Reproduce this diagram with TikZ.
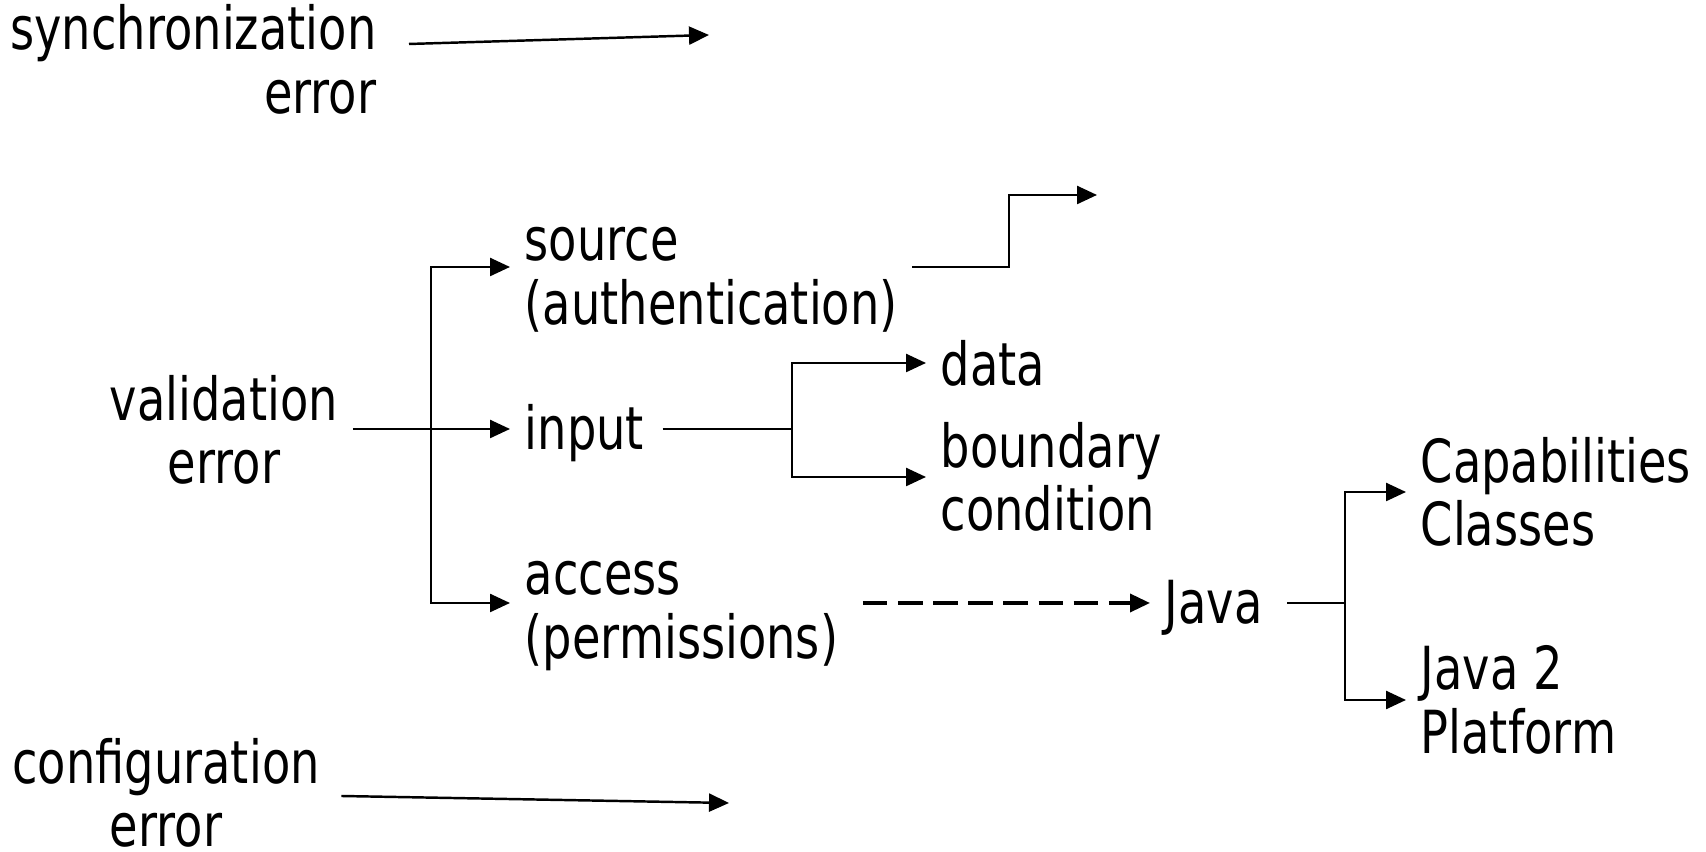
\documentclass[tikz,border=0pt]{standalone}
\usepackage{fontspec}
\setmainfont{DejaVu Sans}[FakeStretch=0.78]
\usepackage{tikz}
\usetikzlibrary{arrows.meta}
\usetikzlibrary{positioning,calc}
\tikzset{>={Triangle[length=0.2cm,width=0.18cm]},
  lbl/.style={inner xsep=4pt,inner ysep=2pt,font=\fontsize{16.9}{18.1}\selectfont},
  arr/.style={->,line width=0.7pt},
  dashline/.style={->,line width=1pt,dash pattern=on 7pt off 3pt}}

\begin{document}
\begin{tikzpicture}
    \useasboundingbox (0,0) rectangle (17.06,8.52);

    % left column
    \node (sync) [lbl, align=right, anchor=east] at (3.91,7.925) {synchronization\\error};
    \node (valid) [lbl, align=center] at (2.24,4.22) {validation\\error};
    \node (config) [lbl, inner ysep=0pt, align=center] at (1.66,0.59) {configuration\\error};

    % kinds of validation
    \node (source) [lbl, align=left, anchor=west] at (5.10,5.72) {source\\(authentication)};
    \node (input) [lbl, anchor=west] at (5.10,4.19) {input};
    \node (access) [lbl, align=left, anchor=west] at (5.10,2.36) {access\\(permissions)};

    \node (data) [lbl, anchor=west] at (9.26,4.89) {data};
    \node (bound) [lbl, align=left, anchor=west] at (9.26,3.75) {boundary\\condition};

    \node (java) [lbl, anchor=west] at (11.50,2.44) {Java};
    \node (caps) [lbl, align=left, anchor=west] at (14.06,3.60) {Capabilities\\Classes};
    \node (plat) [lbl, align=left, anchor=west] at (14.06,1.52) {Java 2\\Platform};

    % loose ends and bends
    \coordinate (syncend) at (7.09,8.17);
    \coordinate (srcbend) at (10.09,6.57);
    \coordinate (srcend) at (10.97,6.57);
    \coordinate (configend) at (7.29,0.49);
    \coordinate (vfork) at (4.31,4.23);
    \coordinate (ifork) at (7.92,4.23);
    \coordinate (jfork) at (13.45,2.49);

    \draw[arr] ([shift={(0.18,0.155)}]sync.east) -- (syncend);
    \draw[arr] ([shift={(0.7mm,-0.3mm)}]config.east) -- (configend);

    \draw[arr] (valid.east |- vfork) -- (input.west |- vfork);
    \draw[arr] (vfork) |- ([yshift=1.3mm]source.west);
    \draw[arr] (vfork) |- ([yshift=1.3mm]access.west);

    \draw[arr] ([yshift=1.3mm]source.east) -| (srcbend) -- (srcend);

    \draw ([xshift=0.4mm]input.east |- ifork) -- (ifork);
    \draw[arr] (ifork) |- (data.west);
    \draw[arr] (ifork) |- (bound.west);

    \draw[dashline] ([shift={(1mm,1.3mm)}]access.east) -- ([yshift=1.3mm]access.east -| java.west);

    \draw ([xshift=1mm]java.east |- jfork) -- (jfork);
    \draw[arr] (jfork) |- (caps.west);
    \draw[arr] (jfork) |- (plat.west);
\end{tikzpicture}
\end{document}
